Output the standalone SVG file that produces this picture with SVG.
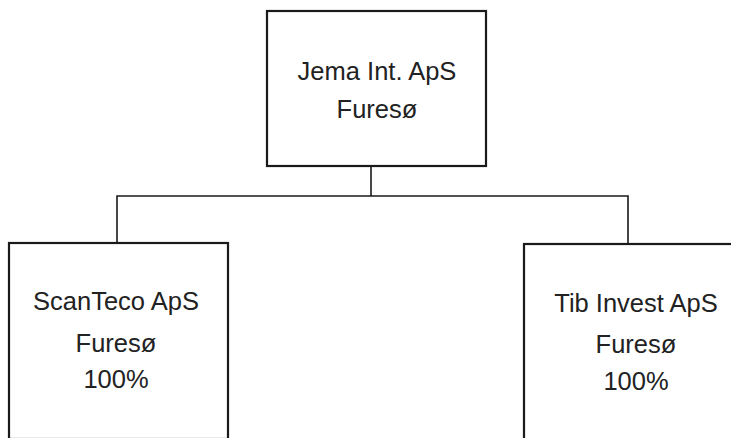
<svg xmlns="http://www.w3.org/2000/svg" width="731" height="438" viewBox="0 0 731 438">
<style>
.box{fill:#fff;stroke:#1a1a1a;stroke-width:2.2}
.ln{fill:none;stroke:#1a1a1a;stroke-width:1.6}
text{font-family:"Liberation Sans",Arial,sans-serif;font-size:25.5px;fill:#222;text-anchor:middle}
</style>
<rect width="731" height="438" fill="#fff"/>
<g id="connectors">
<path class="ln" d="M371 166 V196 M117 243 V196 H628 V244"/>
</g>
<g id="jema">
<rect class="box" x="267" y="11" width="219" height="155"/>
<text x="377" y="80">Jema Int. ApS</text>
<text x="377" y="118">Furesø</text>
</g>
<g id="scanteco">
<rect class="box" x="9" y="243" width="219" height="196"/>
<text x="116" y="310">ScanTeco ApS</text>
<text x="116" y="352">Furesø</text>
<text x="116" y="388">100%</text>
</g>
<g id="tibinvest">
<rect class="box" x="524" y="244" width="220" height="196"/>
<text x="636" y="312">Tib Invest ApS</text>
<text x="636" y="353">Furesø</text>
<text x="636" y="390">100%</text>
</g>
</svg>
